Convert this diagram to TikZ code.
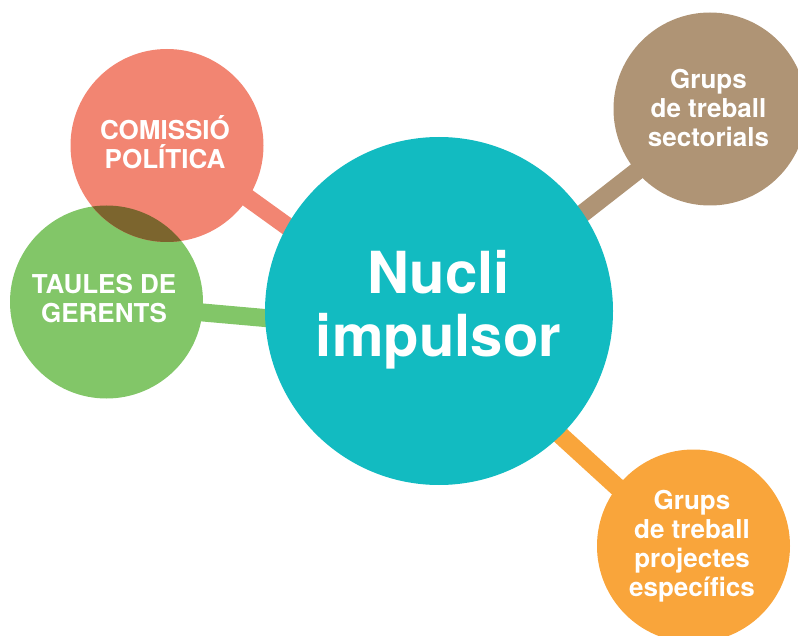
\documentclass[tikz,border=0pt]{standalone}
\usepackage{fontspec}
\setmainfont{TeX Gyre Heros}
\definecolor{teal1}{HTML}{12BBC1}
\definecolor{salmon1}{HTML}{F28572}
\definecolor{green1}{HTML}{82C668}
\definecolor{olive1}{HTML}{7C652E}
\definecolor{brown1}{HTML}{AF9475}
\definecolor{orange1}{HTML}{F9A53B}
\begin{document}
\begin{tikzpicture}[x=1pt,y=-1pt,
  bubble/.style={circle,inner sep=0pt,minimum size=193pt,text=white,align=center,
    font=\bfseries\fontsize{26}{29}\selectfont},
  hub/.style={circle,inner sep=0pt,minimum size=348pt,fill=teal1,text=white,align=center,
    font=\bfseries\fontsize{58}{63}\selectfont},
  bar/.style={line width=18pt}]
\useasboundingbox (0,0) rectangle (798,636);
\clip (0,0) rectangle (798,636);
% bar end points
\coordinate (r1) at (200,163.5);  \coordinate (r2) at (320,249.9);
\coordinate (g1) at (150,307.8);  \coordinate (g2) at (320,322.9);
\coordinate (b1) at (680,137.5);  \coordinate (b2) at (540,246.7);
\coordinate (o1) at (650,517);    \coordinate (o2) at (500,380);
\draw[bar,salmon1] (r1) -- (r2);
\draw[bar,green1] (g1) -- (g2);
\draw[bar,brown1] (b1) -- (b2);
\draw[bar,orange1] (o1) -- (o2);
% circles
\node[bubble,fill=green1] (gre) at (106.5,302) {};
\node[bubble,fill=salmon1] (com) at (167,145.5) {};
\begin{scope}
  \clip (com.center) circle[radius=96.5pt];
  \fill[olive1] (gre.center) circle[radius=96.5pt];
\end{scope}
\node[bubble,fill=brown1] (sec) at (710,109) {};
\node[bubble,fill=orange1] (esp) at (693.5,546) {};
\node[hub] (nuc) at (439,311) {};
% labels
\node[bubble] (tcom) at (165,142) {COMISSIÓ\\POLÍTICA};
\node[bubble] (tgre) at (104,299) {TAULES DE\\GERENTS};
\node[bubble] (tsec) at (708.5,108) {Grups\\de treball\\sectorials};
\node[bubble] (tesp) at (692,546) {Grups\\de treball\\projectes\\específics};
\node[hub,fill=none] (tnuc) at (438.5,310) {Nucli\\impulsor};
\end{tikzpicture}
\end{document}
